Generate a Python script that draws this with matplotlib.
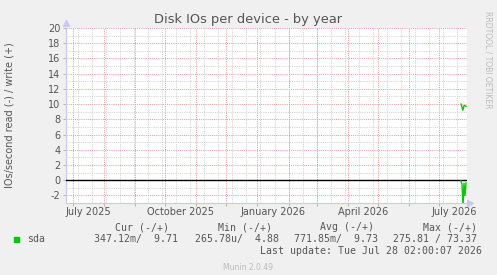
import datetime as dt
import matplotlib
matplotlib.use("Agg")
import matplotlib.pyplot as plt
import matplotlib.dates as mdates
import matplotlib.transforms as mtrans

# ---- data ----
dates = [dt.datetime(2026, 7, 23), dt.datetime(2026, 7, 24), dt.datetime(2026, 7, 25),
         dt.datetime(2026, 7, 26), dt.datetime(2026, 7, 27), dt.datetime(2026, 7, 28)]
write_vals = [10.0, 9.6, 9.2, 9.8, 9.8, 9.71]
read_vals = [0.1, 0.5, 3.5, 0.4, 2.0, 0.35]

yticks = [-2, 0, 2, 4, 6, 8, 10, 12, 14, 16, 18, 20]
xlabel_months = [dt.datetime(2025, 7, 1), dt.datetime(2025, 10, 1), dt.datetime(2026, 1, 1),
                 dt.datetime(2026, 4, 1), dt.datetime(2026, 7, 1)]
xlabel_texts = ["July 2025", "October 2025", "January 2026", "April 2026", "July 2026"]

headers = ["Cur (-/+)", "Min (-/+)", "Avg (-/+)", "Max (-/+)"]
values = ["347.12m/  9.71", "265.78u/  4.88", "771.85m/  9.73", "275.81 / 73.37"]
series_name = "sda"
last_update = "Last update: Tue Jul 28 02:00:07 2026"

# ---- figure ----
W, H = 497, 275
fig = plt.figure(figsize=(W / 100, H / 100), dpi=100, facecolor="#F0F0F0")
L, R, T, B = 66, 467, 28, 203
ax = fig.add_axes([L / W, (H - B) / H, (R - L) / W, (B - T) / H])
ax.set_facecolor("white")

xmin = dt.datetime(2025, 6, 24)
xmax = dt.datetime(2026, 7, 29)
ax.set_xlim(xmin, xmax)
ax.set_ylim(-3, 20)

# grid: minor gray
dot = (0, (1, 1.2))
for v in range(-3, 21):
    if v % 2 != 0:
        ax.axhline(v, color="#C8C8C8", lw=0.6, ls=dot, zorder=1)
d = dt.datetime(2025, 7, 6)
while d < xmax:
    ax.axvline(d, color="#C8C8C8", lw=0.6, ls=dot, zorder=1)
    d += dt.timedelta(days=14)
# major red
for v in yticks:
    ax.axhline(v, color="#E59A9A", lw=0.7, ls=dot, zorder=2)
month_starts = []
y_, m_ = 2025, 7
while dt.datetime(y_, m_, 1) < xmax:
    month_starts.append(dt.datetime(y_, m_, 1))
    m_ += 1
    if m_ > 12:
        m_ = 1
        y_ += 1
for ms in month_starts:
    ax.axvline(ms, color="#E59A9A", lw=0.7, ls=dot, zorder=2)

# zero line
ax.axhline(0, color="black", lw=1.0, zorder=3)

# data
ax.plot(dates, write_vals, color="#00CC00", lw=1.0, zorder=4)
ax.plot(dates, [-v for v in read_vals], color="#00CC00", lw=1.0, zorder=4)

# axes styling
for s in ["top", "right"]:
    ax.spines[s].set_visible(False)
for s in ["left", "bottom"]:
    ax.spines[s].set_color("#C8C8F0")
    ax.spines[s].set_linewidth(0.8)

ax.set_yticks(yticks)
ax.set_yticklabels([str(v) for v in yticks], fontsize=7, color="#555555")
ax.tick_params(axis="y", length=2, width=0.6, color="#AAAAAA", pad=2)
ax.set_xticks(month_starts)
ax.set_xticklabels([])
ax.tick_params(axis="x", length=2, width=0.6, color="#AAAAAA")

trans = mtrans.blended_transform_factory(ax.transData, ax.transAxes)
for md, txt in zip(xlabel_months, xlabel_texts):
    ax.text(md + dt.timedelta(days=15), -0.025, txt, transform=trans, ha="center", va="top",
            fontsize=7, color="#555555")

# axis arrows (decorations of the frame)
fig.lines.append(plt.Line2D([66 / W], [1 - 23 / H], marker="^", color="#C8C8F0", markersize=4,
                            transform=fig.transFigure))
fig.lines.append(plt.Line2D([470 / W], [1 - 203 / H], marker=">", color="#C8C8F0", markersize=4,
                            transform=fig.transFigure))

# titles
fig.text(248 / W, 1 - 19 / H, "Disk IOs per device - by year", ha="center", va="center",
         fontsize=9.4, color="#555555")
fig.text(10 / W, 1 - 115 / H, "IOs/second read (-) / write (+)", rotation=90, ha="center",
         va="center", fontsize=7, color="#555555")
fig.text(488 / W, 1 - 60 / H, "RRDTOOL / TOBI OETIKER", rotation=270, ha="center", va="center",
         fontsize=5.5, color="#BBBBBB")

# legend
mono = "DejaVu Sans Mono"
fs = 7.1
header_right = [169, 272, 374, 477]
value_right = [178, 279, 378, 477]
for hx, htxt in zip(header_right, headers):
    fig.text(hx / W, 1 - 227 / H, htxt, ha="right", va="center", family=mono, fontsize=fs,
             color="#555555")
for vx, vtxt in zip(value_right, values):
    fig.text(vx / W, 1 - 239 / H, vtxt, ha="right", va="center", family=mono, fontsize=fs,
             color="#555555")
fig.patches.append(plt.Rectangle((14 / W, 1 - 242 / H), 5 / W, 5 / H, transform=fig.transFigure,
                                 color="#00CC00"))
fig.text(27 / W, 1 - 239 / H, series_name, ha="left", va="center", family=mono, fontsize=fs,
         color="#555555")
fig.text(482 / W, 1 - 251 / H, last_update, ha="right", va="center", family=mono, fontsize=fs,
         color="#555555")
fig.text(248 / W, 1 - 267 / H, "Munin 2.0.49", ha="center", va="center", fontsize=5.5,
         color="#BBBBBB")

fig.savefig("out.png", dpi=100, facecolor=fig.get_facecolor())
